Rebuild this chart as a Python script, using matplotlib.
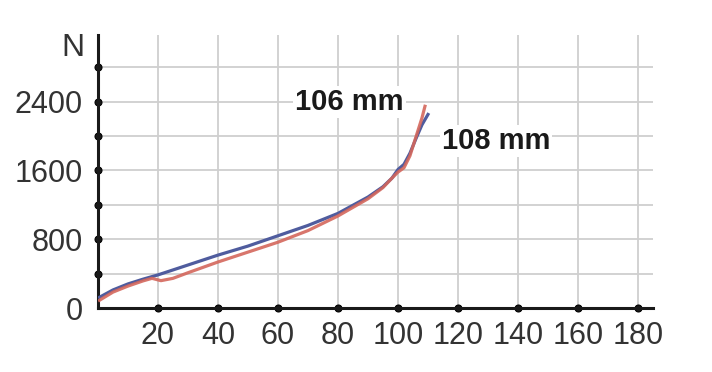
import matplotlib.pyplot as plt
import numpy as np

# curve readings (stroke in mm, force in N)
blue_x = [0.5, 5, 10, 15, 20, 30, 40, 50, 60, 70, 80, 90, 95, 98, 100, 102, 104, 106, 108, 110]
blue_y = [125, 210, 280, 335, 385, 500, 615, 720, 840, 960, 1100, 1290, 1410, 1510, 1610, 1670, 1800, 1970, 2130, 2250]
red_x = [0.5, 5, 10, 15, 18, 21, 25, 30, 40, 50, 60, 70, 80, 90, 95, 98, 100, 102, 104, 106, 108, 109]
red_y = [90, 185, 255, 315, 345, 318, 345, 410, 535, 650, 765, 900, 1070, 1270, 1400, 1510, 1580, 1630, 1770, 1990, 2210, 2345]

label_a = "106 mm"
label_b = "108 mm"

x_ticks = [20, 40, 60, 80, 100, 120, 140, 160, 180]
y_ticks = [0, 400, 800, 1200, 1600, 2000, 2400, 2800]
y_labelled = [0, 800, 1600, 2400]

plt.rcParams['font.family'] = ['Liberation Sans', 'DejaVu Sans']

fig = plt.figure(figsize=(7.12, 3.72), dpi=100)
ax = fig.add_axes([0.1376, 0.172, 0.7795, 0.734])

ax.plot(blue_x, blue_y, color='#4f5c9e', lw=2.3, zorder=3)
ax.plot(red_x, red_y, color='#d4675c', lw=2.3, alpha=0.9, zorder=4)

ax.set_xlim(0, 185)
ax.set_ylim(0, 3174)

ax.set_xticks(x_ticks)
ax.set_yticks(y_ticks)
ax.set_yticklabels([str(v) if v in y_labelled else '' for v in y_ticks])

ax.grid(True, color='#cfcfcf', lw=1.3, zorder=0)
ax.set_axisbelow(True)

for s in ['top', 'right']:
    ax.spines[s].set_visible(False)
for s in ['left', 'bottom']:
    ax.spines[s].set_color('#1a1a1a')
    ax.spines[s].set_linewidth(2.2)

ax.tick_params(axis='both', length=0, labelsize=22, labelcolor='#333333')
ax.tick_params(axis='y', pad=11)
ax.tick_params(axis='x', pad=9)

# dots on the axes instead of tick marks
for t in ax.xaxis.get_major_ticks():
    t.tick1line.set_marker('o')
    t.tick1line.set_markersize(5)
    t.tick1line.set_color('#1a1a1a')
for t, v in zip(ax.yaxis.get_major_ticks(), y_ticks):
    t.tick1line.set_marker('o')
    t.tick1line.set_markersize(5 if v > 0 else 0)
    t.tick1line.set_color('#1a1a1a')

ax.text(-0.024, 0.952, 'N', transform=ax.transAxes, ha='right', va='center',
        fontsize=23, color='#333333')

box = dict(facecolor='white', edgecolor='none', pad=1.5)
ax.text(65.7, 2395, label_a, ha='left', va='center', fontsize=21,
        fontweight='bold', color='#1a1a1a', bbox=box, zorder=5)
ax.text(114.7, 1942, label_b, ha='left', va='center', fontsize=21,
        fontweight='bold', color='#1a1a1a', bbox=box, zorder=5)

plt.savefig('out.png', dpi=100)
